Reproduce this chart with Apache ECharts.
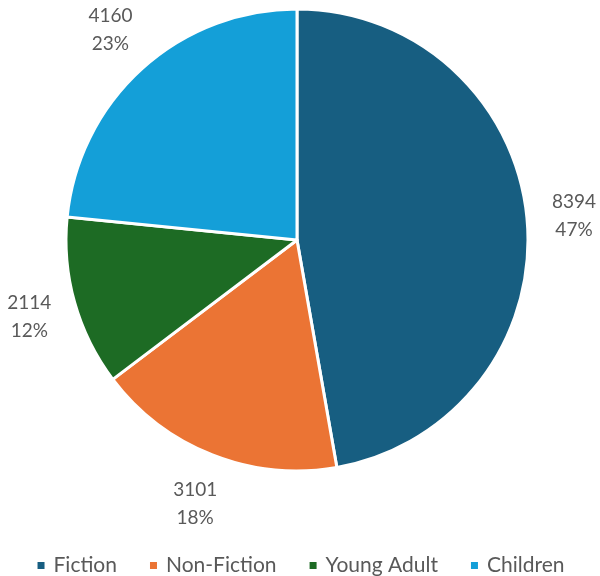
<!DOCTYPE html>
<html>
<head>
<meta charset="utf-8">
<script src="https://cdn.jsdelivr.net/npm/echarts@6/dist/echarts.min.js"></script>
<style>
  html, body { margin: 0; padding: 0; background: #ffffff; }
  #chart { width: 600px; height: 576px; }
</style>
</head>
<body>
<div id="chart"></div>
<script>
// Book sales by genre
const categories = ['Fiction', 'Non-Fiction', 'Young Adult', 'Children'];
const values = [8394, 3101, 2114, 4160];
const colors = ['#175e81', '#eb7434', '#1d6b24', '#149fd8'];

const center = [297, 240];
const radius = 231;
const labelGap = 25;

const total = values.reduce((a, b) => a + b, 0);

// Mid-angle of each slice (clockwise from 12 o'clock), used to place labels outside the rim
const midAngles = [];
let acc = 0;
values.forEach(v => {
  const start = acc / total * 2 * Math.PI;
  acc += v;
  const end = acc / total * 2 * Math.PI;
  midAngles.push((start + end) / 2);
});

const chart = echarts.init(document.getElementById('chart'), null, { renderer: 'canvas' });

chart.setOption({
  animation: false,
  color: colors,
  textStyle: { fontFamily: 'Lato' },
  legend: {
    top: 550,
    left: 'center',
    itemWidth: 9,
    itemHeight: 9,
    itemGap: 31,
    icon: 'rect',
    textStyle: { color: '#595959', fontSize: 21, fontFamily: 'Lato', padding: [0, 0, 0, 3] },
    data: categories
  },
  series: [{
    type: 'pie',
    center: center,
    radius: radius,
    startAngle: 90,
    clockwise: true,
    percentPrecision: 0,
    avoidLabelOverlap: false,
    itemStyle: { borderColor: '#ffffff', borderWidth: 3 },
    label: {
      show: true,
      position: 'outside',
      formatter: p => p.value + '\n' + p.percent + '%',
      color: '#595959',
      fontSize: 19,
      lineHeight: 28,
      fontFamily: 'Lato',
      align: 'center'
    },
    labelLine: { show: false },
    // Push each label box out along its slice's mid-angle so it clears the rim
    labelLayout: function (params) {
      const a = midAngles[params.dataIndex];
      const dx = Math.sin(a), dy = -Math.cos(a);
      const w = params.labelRect.width, h = params.labelRect.height;
      return {
        x: center[0] + (radius + labelGap) * dx + dx * w / 2,
        y: center[1] + (radius + labelGap) * dy + dy * h / 2,
        align: 'center',
        verticalAlign: 'middle'
      };
    },
    data: categories.map((c, i) => ({ name: c, value: values[i] }))
  }]
});
</script>
</body>
</html>
